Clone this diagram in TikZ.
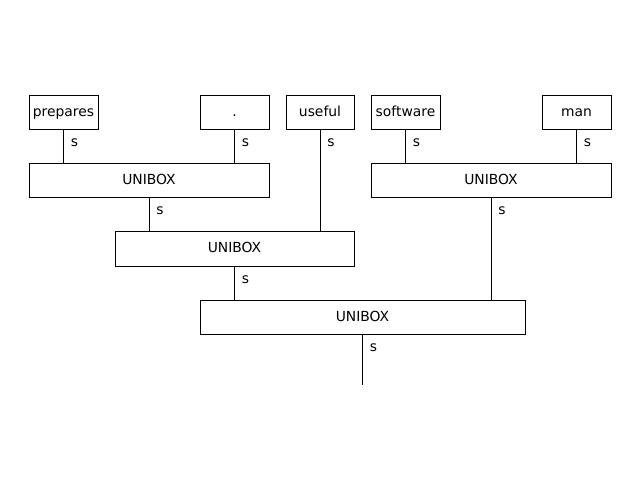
\documentclass[tikz,border=0pt]{standalone}
\usepackage{fontspec}
\setmainfont{DejaVu Sans}
\begin{document}
\begin{tikzpicture}[x=0.75pt,y=-0.75pt,
  box/.style={draw,line width=0.75pt,inner sep=0pt,minimum height=34*0.75pt,text height=6pt,text depth=0pt,font=\fontsize{10.4}{12}\selectfont},
  lbl/.style={anchor=west,inner sep=0pt,font=\fontsize{10.4}{12}\selectfont},
  conn/.style={line width=0.75pt}]
\useasboundingbox (0,0) rectangle (640,480);
\node[box,minimum width=69*0.75pt] (w1) at (63.5,112) {prepares};
\node[box,minimum width=69*0.75pt] (w2) at (234.5,112) {.};
\node[box,minimum width=68*0.75pt] (w3) at (320,112) {useful};
\node[box,minimum width=69*0.75pt] (w4) at (405.5,112) {software};
\node[box,minimum width=69*0.75pt] (w5) at (576.5,112) {man};
\node[box,minimum width=240*0.75pt] (u1) at (149,180) {UNIBOX};
\node[box,minimum width=240*0.75pt] (u2) at (491,180) {UNIBOX};
\node[box,minimum width=239*0.75pt,minimum height=35*0.75pt] (u3) at (234.5,248.5) {UNIBOX};
\node[box,minimum width=325*0.75pt] (u4) at (362.5,317) {UNIBOX};
\coordinate (end) at (362.5,385);
\draw[conn] (w1.south) -- (w1.south |- u1.north);
\node[lbl] at ([xshift=7*0.75pt,yshift=-13*0.75pt]w1.south) {s};
\draw[conn] (w2.south) -- (w2.south |- u1.north);
\node[lbl] at ([xshift=7*0.75pt,yshift=-13*0.75pt]w2.south) {s};
\draw[conn] (w3.south) -- (w3.south |- u3.north);
\node[lbl] at ([xshift=7*0.75pt,yshift=-13*0.75pt]w3.south) {s};
\draw[conn] (w4.south) -- (w4.south |- u2.north);
\node[lbl] at ([xshift=7*0.75pt,yshift=-13*0.75pt]w4.south) {s};
\draw[conn] (w5.south) -- (w5.south |- u2.north);
\node[lbl] at ([xshift=7*0.75pt,yshift=-13*0.75pt]w5.south) {s};
\draw[conn] (u1.south) -- (u1.south |- u3.north);
\node[lbl] at ([xshift=7*0.75pt,yshift=-13*0.75pt]u1.south) {s};
\draw[conn] (u2.south) -- (u2.south |- u4.north);
\node[lbl] at ([xshift=7*0.75pt,yshift=-13*0.75pt]u2.south) {s};
\draw[conn] (u3.south) -- (u3.south |- u4.north);
\node[lbl] at ([xshift=7*0.75pt,yshift=-13*0.75pt]u3.south) {s};
\draw[conn] (u4.south) -- (end);
\node[lbl] at ([xshift=7*0.75pt,yshift=-13*0.75pt]u4.south) {s};
\end{tikzpicture}
\end{document}
